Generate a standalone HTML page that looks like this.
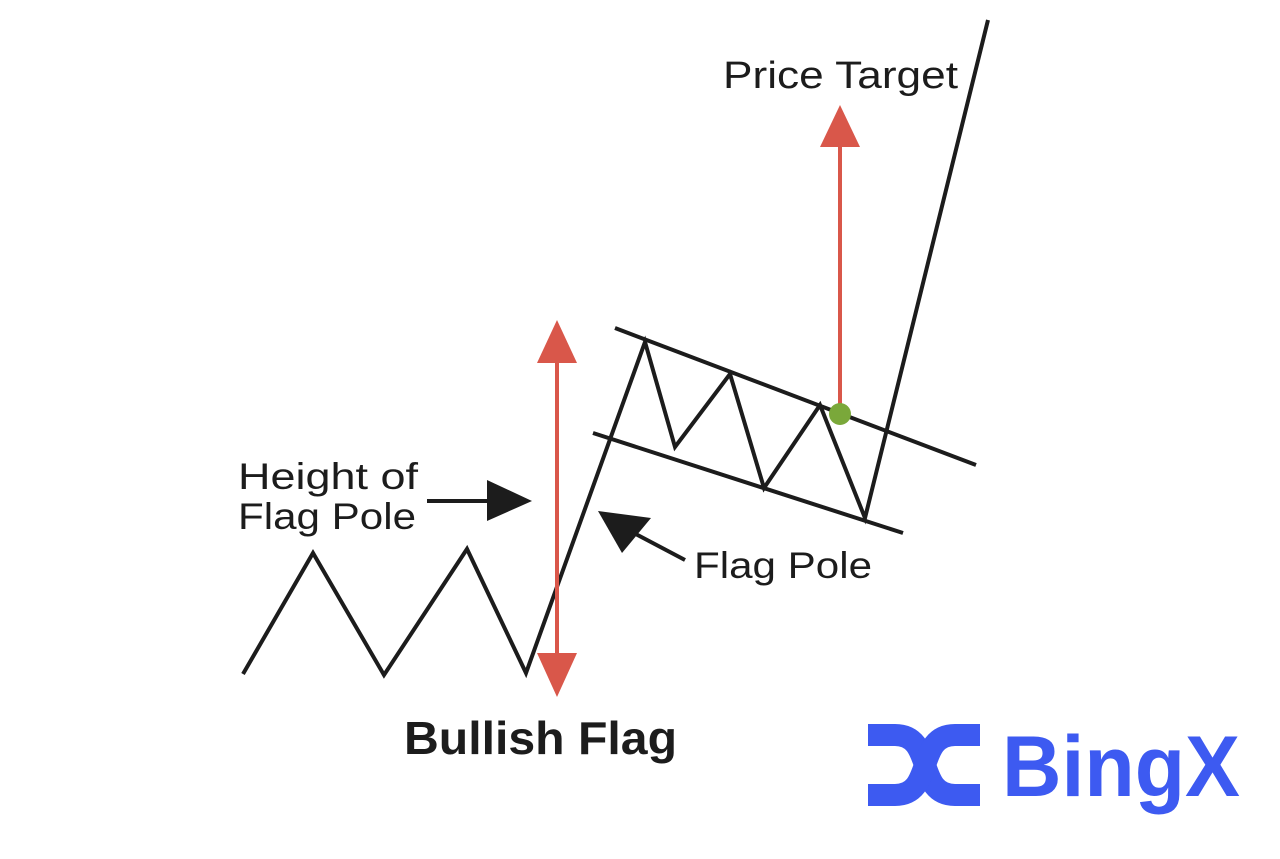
<!DOCTYPE html>
<html><head><meta charset="utf-8"><style>html,body{margin:0;padding:0;background:#fff}svg{display:block}</style></head>
<body>
<svg width="1280" height="859" viewBox="0 0 1280 859" xmlns="http://www.w3.org/2000/svg">
<rect width="1280" height="859" fill="#fff"/>
<g fill="none" stroke="#1c1c1c" stroke-width="4" stroke-linejoin="miter">
<polyline points="243,674 313,553 384,675 467,549 526,673 645,342 675,447 730,374 764,488 820,405 865,518 988,20"/>
<line x1="615" y1="328" x2="976" y2="465"/>
<line x1="593" y1="433" x2="903" y2="533"/>
<line x1="427" y1="501" x2="495" y2="501"/>
<line x1="632" y1="532" x2="685" y2="560"/>
</g>
<polygon points="487,480 532,501 487,521" fill="#1c1c1c"/>
<polygon points="598,511 622,553 651,518" fill="#1c1c1c"/>
<line x1="557" y1="360" x2="557" y2="655" stroke="#d9574a" stroke-width="4"/>
<polygon points="557,320 537,363 577,363" fill="#d9574a"/>
<polygon points="557,697 537,653 577,653" fill="#d9574a"/>
<line x1="840" y1="145" x2="840" y2="413" stroke="#d9574a" stroke-width="4"/>
<polygon points="840,105 820,147 860,147" fill="#d9574a"/>
<circle cx="840" cy="414" r="11" fill="#7aa83a"/>
<g font-family="Liberation Sans, sans-serif" fill="#1c1c1c">
<text x="723" y="88" font-size="38" textLength="235" lengthAdjust="spacingAndGlyphs">Price Target</text>
<text x="238" y="489" font-size="37" textLength="180" lengthAdjust="spacingAndGlyphs">Height of</text>
<text x="238" y="529" font-size="37" textLength="178" lengthAdjust="spacingAndGlyphs">Flag Pole</text>
<text x="694" y="578" font-size="37" textLength="178" lengthAdjust="spacingAndGlyphs">Flag Pole</text>
<text x="404" y="754" font-size="46" font-weight="bold" textLength="273" lengthAdjust="spacingAndGlyphs">Bullish Flag</text>
<text x="1002" y="796" font-size="86" font-weight="bold" fill="#3d5af1" textLength="238" lengthAdjust="spacingAndGlyphs">BingX</text>
</g>
<g fill="none" stroke="#3d5af1" stroke-width="22">
<path d="M868,735 H895 C935,735 915,795 955,795 H980"/>
<path d="M868,795 H895 C935,795 915,735 955,735 H980"/>
</g>
</svg>
</body></html>
